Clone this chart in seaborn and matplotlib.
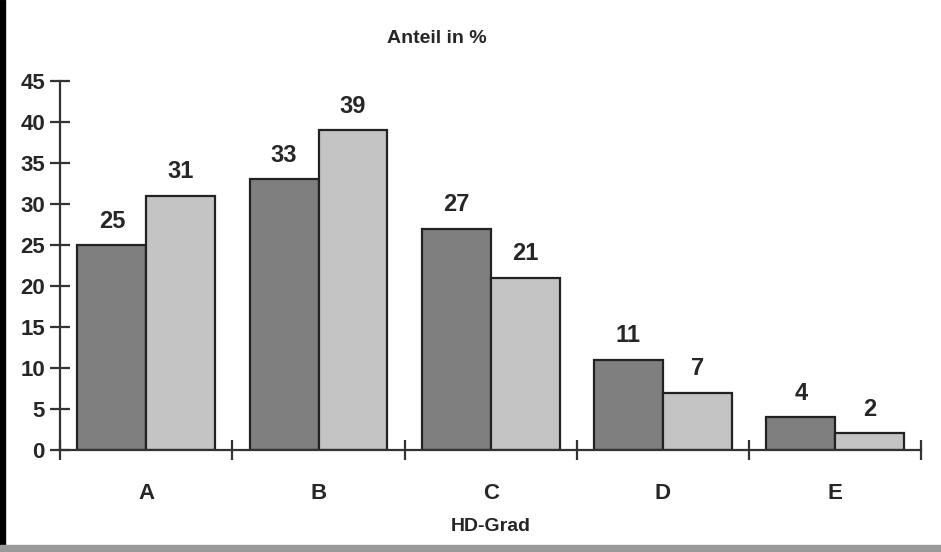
import matplotlib
matplotlib.use("Agg")
import matplotlib.pyplot as plt
from matplotlib.patches import Rectangle
import pandas as pd
import seaborn as sns

# data
grades = ["A", "B", "C", "D", "E"]
series_1 = [25, 33, 27, 11, 4]
series_2 = [31, 39, 21, 7, 2]
series_names = ["Gruppe 1", "Gruppe 2"]
yticks = list(range(0, 50, 5))

df = pd.DataFrame({
    "grad": grades * 2,
    "anteil": series_1 + series_2,
    "serie": [series_names[0]] * 5 + [series_names[1]] * 5,
})

sns.set_theme(style="white")
plt.rcParams["font.family"] = ["Liberation Sans", "DejaVu Sans"]
plt.rcParams["font.weight"] = "bold"

fig = plt.figure(figsize=(9.41, 5.52), dpi=100)
ax = fig.add_axes([0.064, 0.185, 0.915, 0.668])

sns.barplot(data=df, x="grad", y="anteil", hue="serie", order=grades,
            hue_order=series_names, palette=["#7f7f7f", "#c4c4c4"],
            width=0.8, edgecolor="#222222", linewidth=1.6, saturation=1,
            legend=False, ax=ax)

for cont in ax.containers:
    ax.bar_label(cont, padding=9, fontsize=17, fontweight="bold", color="#262626")

ax.set_ylim(0, 45)
ax.set_xlim(-0.5, 4.5)
ax.set_yticks(yticks)
ax.set_xticks(range(len(grades)))
ax.set_xticks([i - 0.5 for i in range(len(grades) + 1)], minor=True)
ax.tick_params(axis="x", which="major", bottom=True, length=0, pad=24, labelsize=16)
ax.tick_params(axis="x", which="minor", bottom=True, direction="inout", length=14,
               width=1.6, color="#333333")
ax.tick_params(axis="y", left=True, direction="inout", length=14, width=1.6,
               color="#333333", labelsize=16, pad=4)
for lab in ax.get_yticklabels() + ax.get_xticklabels():
    lab.set_fontweight("bold")
    lab.set_color("#262626")

sns.despine(ax=ax, top=True, right=True)
for s in ["left", "bottom"]:
    ax.spines[s].set_color("#333333")
    ax.spines[s].set_linewidth(1.6)

ax.set_xlabel("HD-Grad", fontsize=14, fontweight="bold", labelpad=10, color="#262626")
ax.set_ylabel("")
fig.text(0.464, 0.93, "Anteil in %", ha="center", va="center", fontsize=14,
         fontweight="bold", color="#262626")

# frame of the scanned picture
fig.patches.append(Rectangle((0, 0), 0.005, 1, transform=fig.transFigure, color="black"))
fig.patches.append(Rectangle((0, 0), 1, 0.012, transform=fig.transFigure, color="#9a9a9a"))

fig.savefig("out.png", dpi=100)
